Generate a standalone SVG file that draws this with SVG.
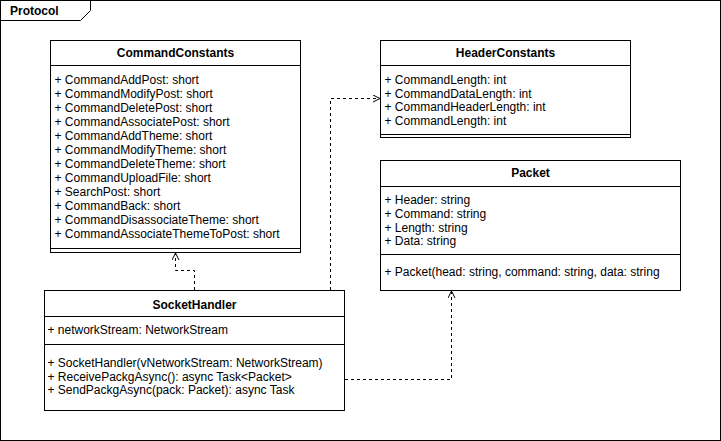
<svg xmlns="http://www.w3.org/2000/svg" width="721" height="441" viewBox="0 0 721 441">
<style>
.box{fill:#fff;stroke:#000;stroke-width:1}
.ln{stroke:#000;stroke-width:1;fill:none}
.t{font-family:"Liberation Sans",Arial,Helvetica,sans-serif;font-size:12px;fill:#000}
.b{font-weight:bold}
.h{text-anchor:middle}
.dash{stroke:#000;stroke-width:1;fill:none;stroke-dasharray:3 3;marker-end:url(#open)}
</style>
<defs>
<marker id="open" viewBox="0 0 8 8" refX="8" refY="4" markerWidth="8" markerHeight="8" markerUnits="userSpaceOnUse" orient="auto">
<path d="M1,0.5 L8,4 L1,7.5" fill="none" stroke="#000" stroke-width="1"/>
</marker>
</defs>
<rect width="721" height="441" fill="#fff"/>
<g id="frame">
<rect x="0.5" y="0.5" width="720" height="440" class="ln"/>
<path d="M0.5,20.5 H80.5 L90.5,10.5 V0.5" class="ln"/>
<text x="10" y="15" class="t b">Protocol</text>
</g>
<g id="CommandConstants">
<rect x="50.5" y="40.5" width="250" height="212" class="box"/>
<path d="M50.5,65.5 H300.5 M50.5,248.5 H300.5" class="ln"/>
<text x="175.5" y="57" class="t b h">CommandConstants</text>
<text x="54.5" y="84" class="t">+ CommandAddPost: short</text>
<text x="54.5" y="98" class="t">+ CommandModifyPost: short</text>
<text x="54.5" y="112" class="t">+ CommandDeletePost: short</text>
<text x="54.5" y="126" class="t">+ CommandAssociatePost: short</text>
<text x="54.5" y="140" class="t">+ CommandAddTheme: short</text>
<text x="54.5" y="154" class="t">+ CommandModifyTheme: short</text>
<text x="54.5" y="168" class="t">+ CommandDeleteTheme: short</text>
<text x="54.5" y="182" class="t">+ CommandUploadFile: short</text>
<text x="54.5" y="196" class="t">+ SearchPost: short</text>
<text x="54.5" y="210" class="t">+ CommandBack: short</text>
<text x="54.5" y="224" class="t">+ CommandDisassociateTheme: short</text>
<text x="54.5" y="238" class="t">+ CommandAssociateThemeToPost: short</text>
</g>
<g id="HeaderConstants">
<rect x="380.5" y="40.5" width="250" height="97" class="box"/>
<path d="M380.5,65.5 H630.5 M380.5,134.5 H630.5" class="ln"/>
<text x="505.5" y="57" class="t b h">HeaderConstants</text>
<text x="384.5" y="84" class="t">+ CommandLength: int</text>
<text x="384.5" y="97.5" class="t">+ CommandDataLength: int</text>
<text x="384.5" y="111" class="t">+ CommandHeaderLength: int</text>
<text x="384.5" y="124.5" class="t">+ CommandLength: int</text>
</g>
<g id="Packet">
<rect x="380.5" y="160.5" width="300" height="130" class="box"/>
<path d="M380.5,186.5 H680.5 M380.5,254.5 H680.5" class="ln"/>
<text x="530.5" y="177" class="t b h">Packet</text>
<text x="384.5" y="204" class="t">+ Header: string</text>
<text x="384.5" y="217.5" class="t">+ Command: string</text>
<text x="384.5" y="231.5" class="t">+ Length: string</text>
<text x="384.5" y="245" class="t">+ Data: string</text>
<text x="384.5" y="275.5" class="t">+ Packet(head: string, command: string, data: string</text>
</g>
<g id="SocketHandler">
<rect x="44.5" y="290.5" width="300" height="120" class="box"/>
<path d="M44.5,316.5 H344.5 M44.5,344.5 H344.5" class="ln"/>
<text x="194.5" y="309" class="t b h">SocketHandler</text>
<text x="47.5" y="334" class="t">+ networkStream: NetworkStream</text>
<text x="47.5" y="367" class="t">+ SocketHandler(vNetworkStream: NetworkStream)</text>
<text x="47.5" y="380.5" class="t">+ ReceivePackgAsync(): async Task&lt;Packet&gt;</text>
<text x="47.5" y="394" class="t">+ SendPackgAsync(pack: Packet): async Task</text>
</g>
<g id="connectors">
<path d="M194.5,290 V270.5 H175.5 V253" class="dash"/>
<path d="M330.5,290 V98.5 H380" class="dash"/>
<path d="M345,379.5 H451.5 V291" class="dash"/>
</g>
</svg>
